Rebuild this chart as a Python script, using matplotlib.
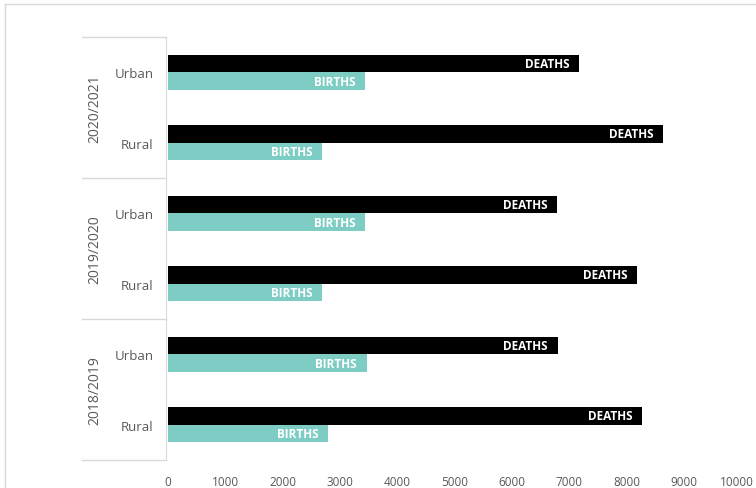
import numpy as np
import matplotlib
matplotlib.use('Agg')
import matplotlib.pyplot as plt
import matplotlib.transforms as mtransforms
from matplotlib.lines import Line2D

plt.rcParams['font.family'] = ['Open Sans', 'DejaVu Sans']

# data, bottom to top
years = ['2018/2019', '2019/2020', '2020/2021']
areas = ['Rural', 'Urban']
deaths = [8270, 6800, 8190, 6790, 8640, 7180]
births = [2790, 3470, 2690, 3440, 2690, 3440]

black = '#000000'
teal = '#7ECDC4'
gray = '#595959'
light = '#D9D9D9'

fig = plt.figure(figsize=(7.56, 4.89), dpi=100)
ax = fig.add_axes([168/756, 1-461/489, 573/756, (461-38)/489])

y = np.arange(len(deaths))
h = 0.25
ax.barh(y + h/2, deaths, height=h, color=black)
ax.barh(y - h/2, births, height=h, color=teal)

for yi, d, b in zip(y, deaths, births):
    ax.annotate('DEATHS', (d, yi + h/2), xytext=(-7, 0), textcoords='offset points',
                ha='right', va='center', color='white', fontsize=8.5, fontweight='bold')
    ax.annotate('BIRTHS', (b, yi - h/2), xytext=(-7, 0), textcoords='offset points',
                ha='right', va='center', color='white', fontsize=8.5, fontweight='bold')

ax.set_xlim(0, 10000)
ax.set_ylim(-0.5, len(deaths) - 0.5)
ax.set_xticks(np.arange(0, 10001, 1000))
ax.set_yticks(y)
ax.set_yticklabels(areas * len(years))
ax.tick_params(axis='both', length=0, colors=gray, labelsize=9.5)
ax.tick_params(axis='x', labelsize=8.5, pad=11)
ax.tick_params(axis='y', pad=9)

# keep the last tick label inside the figure
last = ax.get_xticklabels()[-1]
last.set_transform(last.get_transform() +
                   mtransforms.ScaledTranslation(-4/100, 0, fig.dpi_scale_trans))

for s in ['top', 'right', 'bottom']:
    ax.spines[s].set_visible(False)
ax.spines['left'].set_color(light)
ax.spines['left'].set_position(('data', -35))

# group separators and year labels
trans = ax.get_yaxis_transform()
for k in range(len(years) + 1):
    yy = k * 2 - 0.5
    ax.add_line(Line2D([-0.150, -0.004], [yy, yy], transform=trans, color=light,
                       lw=1, clip_on=False))
for k, yr in enumerate(years):
    ax.text(-0.127, k * 2 + 0.5, yr, transform=trans, rotation=90, ha='center',
            va='center', color=gray, fontsize=10)

# outer frame
fig.add_artist(Line2D([5/756, 5/756], [0, 1-5/489], transform=fig.transFigure, color=light, lw=1))
fig.add_artist(Line2D([5/756, 1], [1-5/489, 1-5/489], transform=fig.transFigure, color=light, lw=1))

fig.savefig('out.png', dpi=100)
